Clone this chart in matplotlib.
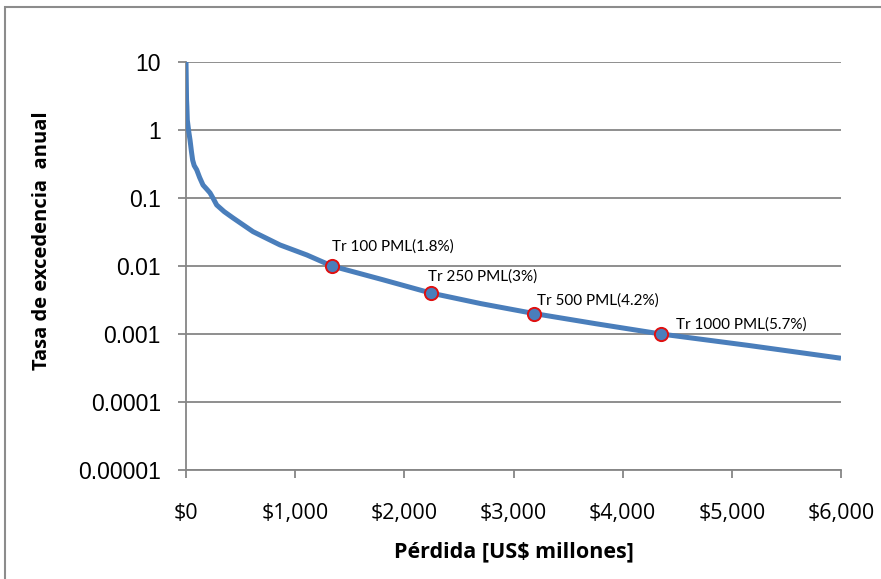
import numpy as np
import matplotlib.pyplot as plt
from matplotlib.patches import Rectangle
from matplotlib.ticker import FuncFormatter, FixedLocator, NullLocator

# loss exceedance curve
loss = [0, 5, 8, 12, 25, 37, 50, 61, 75, 98, 125, 156, 190, 220, 250, 281, 350,
        430, 614, 861, 1108, 1337, 1800, 2244, 2700, 3188, 3750, 4351, 5150, 6000]
rate = [10, 2.8, 2.2, 1.4, 0.95, 0.71, 0.48, 0.36, 0.30, 0.26, 0.20, 0.155,
        0.135, 0.119, 0.098, 0.079, 0.063, 0.051, 0.032, 0.0204, 0.0145, 0.0100,
        0.0063, 0.0040, 0.0028, 0.0020, 0.00142, 0.0010, 0.00068, 0.00044]

# return periods marked on the curve
pml_loss = [1337, 2244, 3188, 4351]
pml_rate = [0.01, 0.004, 0.002, 0.001]
pml_labels = ["Tr 100 PML(1.8%)", "Tr 250 PML(3%)", "Tr 500 PML(4.2%)", "Tr 1000 PML(5.7%)"]
label_offsets = [(0, 9), (-2, 7), (2, 4), (11, 2)]

y_ticks = [1e-5, 1e-4, 1e-3, 1e-2, 1e-1, 1, 10]
y_tick_labels = ["0.00001", "0.0001", "0.001", "0.01", "0.1", "1", "10"]
x_ticks = [0, 1000, 2000, 3000, 4000, 5000, 6000]

blue = "#4A7EBB"
grey = "#868686"

fig = plt.figure(figsize=(8.81, 5.79), dpi=100)
fig.patches.append(Rectangle((5 / 881, -0.05), 1.2, (579 - 7) / 579 + 0.05,
                             transform=fig.transFigure, fill=False,
                             edgecolor="#8C8C8C", linewidth=1.5))
ax = fig.add_axes([186 / 881, 1 - 470 / 579, 655 / 881, 408 / 579])

ax.plot(loss, rate, color=blue, linewidth=3.6, solid_capstyle="butt", zorder=3)
ax.plot(pml_loss, pml_rate, "o", markersize=9.5, markerfacecolor=blue,
        markeredgecolor="#E01010", markeredgewidth=1.4, zorder=4)
for x, y, txt, off in zip(pml_loss, pml_rate, pml_labels, label_offsets):
    ax.annotate(txt, (x, y), xytext=off, textcoords="offset points",
                fontsize=11, family="Lato", ha="left", va="bottom")

ax.set_yscale("log")
ax.set_ylim(1e-5, 10)
ax.set_xlim(0, 6000)
ax.yaxis.set_major_locator(FixedLocator(y_ticks))
ax.yaxis.set_minor_locator(NullLocator())
ax.set_yticklabels(y_tick_labels)
ax.set_xticks(x_ticks)
ax.xaxis.set_major_formatter(FuncFormatter(lambda v, p: f"${v:,.0f}"))

ax.grid(axis="y", color=grey, linewidth=1.3)
ax.set_axisbelow(True)
for side in ("top", "right"):
    ax.spines[side].set_visible(False)
for side in ("left", "bottom"):
    ax.spines[side].set_color(grey)
    ax.spines[side].set_linewidth(1.3)
ax.tick_params(axis="y", colors=grey, length=6, width=1.3, labelcolor="black",
               labelsize=16.5, pad=12)
ax.tick_params(axis="x", colors=grey, length=6, width=1.3, labelcolor="black",
               labelsize=15.5, pad=18)
for lbl in ax.get_yticklabels():
    lbl.set_family("Liberation Sans")
for lbl in ax.get_xticklabels():
    lbl.set_family("Open Sans")

ax.set_xlabel("Pérdida [US$ millones]", fontsize=15.5, fontweight="bold",
              family="Open Sans", labelpad=12)
ax.set_ylabel("Tasa de excedencia  anual", fontsize=14.5, fontweight="bold",
              family="Open Sans", va="center")
ax.yaxis.set_label_coords(-0.22, 0.561)

fig.savefig("out.png", dpi=100)
